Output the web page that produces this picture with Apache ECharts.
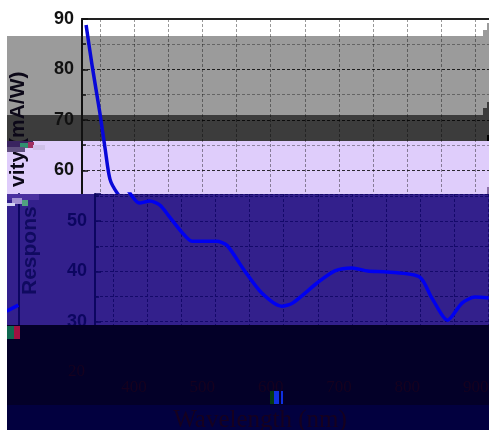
<!DOCTYPE html>
<html><head><meta charset="utf-8">
<style>html,body{margin:0;padding:0;background:#fff}#c{width:489px;height:430px}</style>
<script src="https://cdn.jsdelivr.net/npm/echarts@6/dist/echarts.min.js"></script>
</head><body><div id="c"></div>
<script>
const wavelengths=[330,339,350,358,365,376,389,404,419,431,451,466,502,517,543,568,597,613,649,675,700,723,752,799,817,840,861,880,900];
const responsivity=[88.8,80.6,71.5,64.1,58.2,55.4,53.6,54.0,53.2,51.2,47.8,46.0,46.0,45.2,40.1,35.7,33.1,33.7,37.7,40.1,40.7,40.1,39.9,38.9,34.7,30.3,33.7,34.9,34.7];
const wrapWavelengths=[900,917];
const wrapResponsivity=[32.1,33.3];
const xLabels=[400,500,600,700,800,900];
const xGrid=[350,400,450,500,550,600,650,700,750,800,850,900];
const yTitleTop='vity (mA/W)';
const yTitleBottom='Respons';
const xTitle='Wavelength (nm)';

const pts=(a,b)=>a.map((v,i)=>[v,b[i]]);
const rect=(x,y,w,h,fill,z)=>({type:'rect',z,shape:{x,y,width:w,height:h},style:{fill}});
const text=(t,x,y,font,fill,rot)=>({type:'text',z:12,x,y,rotation:rot||0,style:{text:t,font,fill,textAlign:rot?'left':'center',textVerticalAlign:'middle'}});
const SANS='bold 21px "Liberation Sans"';
const INK='#16001f';
const elements=[
 rect(7,36,482,79,'#9b9b9b',0),rect(7,115,482,26,'#3c3c3c',0),rect(7,141,482,53,'#dfcdfb',0),
 rect(483,30,6,6,'#9b9b9b',0),rect(487,23,2,7,'#9b9b9b',0),
 rect(483,108,6,7,'#3c3c3c',0),rect(487,102,2,6,'#3c3c3c',0),rect(487,135,2,6,'#000',3),rect(487,187,2,7,'#8a70a8',3),
 rect(7,194,482,131,'#33208c',3),
 rect(7,325,482,80,'#030028',10),rect(7,405,482,25,'#02003f',10),
 text(yTitleTop,18,187,SANS,'#0c0818',Math.PI/2),
 text(yTitleBottom,30,295,SANS,'#100a60',Math.PI/2),
 text(xTitle,260,420,'25px "Liberation Serif"',INK),
 // damaged blocks of the picture
 rect(7,141,26,6,'#3a2460',13),rect(20,143,8,5,'#309070',13),rect(28,142,6,6,'#a03060',13),rect(33,145,12,5,'#cfc0e8',13),rect(7,147,18,5,'#605080',13),
 rect(7,194,32,6,'#4a30a0',13),rect(12,198,10,6,'#a090d0',13),rect(22,200,6,6,'#50a080',13),rect(7,203,8,3,'#d0d0f0',13),
 rect(7,326,7,13,'#106850',13),rect(14,326,6,13,'#a01040',13),
 rect(270,391,4,13,'#053a10',13),rect(274,391,5,13,'#1030e0',13),rect(281,391,2,13,'#1030e0',13),
 rect(0,0,7,430,'#fff',20)
];
const baseY={type:'value',min:20,interval:10,axisTick:{inside:true,length:6,lineStyle:{width:1.5}},
 minorTick:{show:true,splitNumber:2,length:4,lineStyle:{width:1.5}},
 axisLabel:{margin:8,fontFamily:'Liberation Sans',fontWeight:'bold',fontSize:18,formatter:v=>(v%10===0&&v>20)?String(v):''}};
const opt={
 animation:false,backgroundColor:'#fff',
 graphic:{elements},
 grid:[
  {left:82,top:19,width:421,height:353,outerBoundsMode:'none'},
  {left:95,top:194,width:421,height:178,outerBoundsMode:'none'},
  {left:-387,top:194,width:406,height:178,outerBoundsMode:'none'},
  {left:82,top:19,width:406,height:353,outerBoundsMode:'none'}
 ],
 xAxis:[
  {gridIndex:0,type:'value',position:'top',min:324,max:940,z:1,
   axisLine:{show:true,lineStyle:{color:'#222',width:2}},axisTick:{show:false,customValues:xGrid},axisLabel:{show:false},
   splitLine:{show:true,lineStyle:{color:'rgba(0,0,0,.4)',type:[3,2]}}},
  {gridIndex:1,type:'value',min:324,max:940,z:4,
   axisLine:{show:false},axisTick:{show:false,customValues:xGrid},axisLabel:{show:false},
   splitLine:{show:true,lineStyle:{color:'#14096a',type:[3,2]}}},
  {gridIndex:2,type:'value',min:324,max:918,z:4,show:false},
  {gridIndex:3,type:'value',min:324,max:918,z:12,
   axisLine:{show:false},axisTick:{show:false},splitLine:{show:false},
   axisLabel:{customValues:xLabels,margin:7,color:INK,fontFamily:'Liberation Serif',fontSize:17}}
 ],
 yAxis:[
  Object.assign({},baseY,{gridIndex:0,max:90,z:1,
   axisLine:{show:true,lineStyle:{color:'#111',width:2}},
   splitLine:{show:true,lineStyle:{color:'rgba(0,0,0,.8)',type:[3,2]}},
   minorSplitLine:{show:true,lineStyle:{color:'rgba(0,0,0,.35)',type:[3,2]}},
   axisLabel:Object.assign({},baseY.axisLabel,{color:'#111'})}),
  Object.assign({},baseY,{gridIndex:1,max:55.4,z:4,
   axisLine:{show:true,lineStyle:{color:'#0c0660',width:2}},
   axisTick:{inside:true,length:6,lineStyle:{color:'#0c0660',width:1.5}},
   minorTick:{show:true,splitNumber:2,length:4,lineStyle:{color:'#0c0660',width:1.5}},
   splitLine:{show:true,lineStyle:{color:'#14096a',type:[3,2]}},
   minorSplitLine:{show:true,lineStyle:{color:'#14096a',type:[3,2]}},
   axisLabel:Object.assign({},baseY.axisLabel,{color:'#0c0660'})}),
  {gridIndex:2,type:'value',position:'right',min:20,max:55.4,z:4,
   axisLine:{show:true,lineStyle:{color:'#0c0660',width:2}},axisTick:{show:false},axisLabel:{show:false},splitLine:{show:false}},
  {gridIndex:3,type:'value',min:20,max:90,interval:70,z:12,
   axisLine:{show:false},axisTick:{show:false},splitLine:{show:false},
   axisLabel:{margin:-3,color:INK,fontFamily:'Liberation Serif',fontSize:17,formatter:v=>v===20?'20':''}}
 ],
 series:[
  {type:'line',xAxisIndex:0,yAxisIndex:0,z:2,data:pts(wavelengths,responsivity),smooth:0.25,showSymbol:false,lineStyle:{color:'#0808d8',width:3.5}},
  {type:'line',xAxisIndex:1,yAxisIndex:1,z:5,data:pts(wavelengths,responsivity),smooth:0.25,showSymbol:false,lineStyle:{color:'#0000f0',width:3.5}},
  {type:'line',xAxisIndex:2,yAxisIndex:2,z:5,data:pts(wrapWavelengths,wrapResponsivity),showSymbol:false,lineStyle:{color:'#0000f0',width:3.5}}
 ]
};
echarts.init(document.getElementById('c'),null,{renderer:'canvas'}).setOption(opt);
</script></body></html>
